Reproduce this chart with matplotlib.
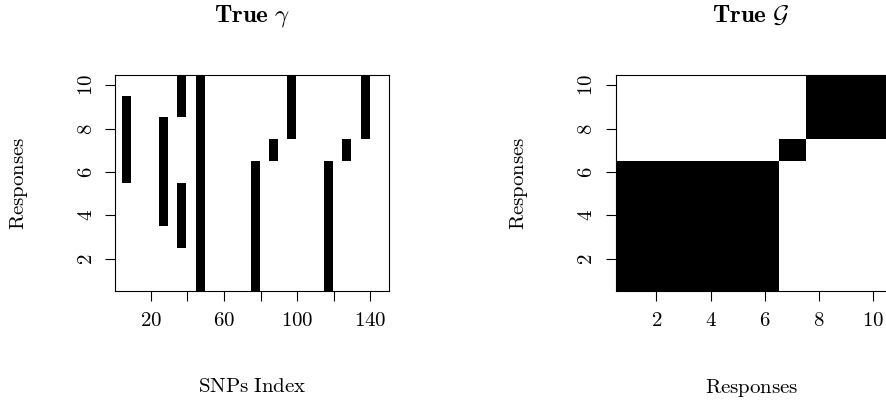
import numpy as np
import matplotlib
matplotlib.use("Agg")
import matplotlib.pyplot as plt
from matplotlib.colors import ListedColormap

plt.rcParams['mathtext.fontset'] = 'cm'
plt.rcParams['font.family'] = 'serif'
plt.rcParams['font.serif'] = ['DejaVu Serif']

n_snp, n_resp = 150, 10
# (first SNP, last SNP, first response, last response) of each black block
blocks = [(5, 9, 6, 9), (25, 29, 4, 8), (35, 39, 9, 10), (35, 39, 3, 5),
          (45, 49, 1, 10), (75, 79, 1, 6), (85, 89, 7, 7), (95, 99, 8, 10),
          (115, 119, 1, 6), (125, 129, 7, 7), (135, 139, 8, 10)]
groups = [(1, 6), (7, 7), (8, 10)]

gamma = np.zeros((n_resp, n_snp))
for s0, s1, r0, r1 in blocks:
    gamma[r0 - 1:r1, s0 - 1:s1] = 1
G = np.zeros((n_resp, n_resp))
for a, b in groups:
    G[a - 1:b, a - 1:b] = 1

cmap = ListedColormap(['white', 'black'])
fig = plt.figure(figsize=(8.87, 4.03), dpi=100)
ax1 = fig.add_axes([0.130, 0.277, 0.309, 0.538])
ax2 = fig.add_axes([0.694, 0.277, 0.306, 0.538])

ax1.imshow(gamma, cmap=cmap, origin='lower', aspect='auto', interpolation='nearest',
           extent=(0.5, n_snp + 0.5, 0.5, n_resp + 0.5))
ax2.imshow(G, cmap=cmap, origin='lower', aspect='auto', interpolation='nearest',
           extent=(0.5, n_resp + 0.5, 0.5, n_resp + 0.5))

def m(s):
    return r'$\mathrm{' + s.replace(' ', r'\ ') + '}$'

ax1.set_xticks(range(20, 141, 20))
ax1.set_xticklabels([m(str(v)) if v in (20, 60, 100, 140) else '' for v in range(20, 141, 20)])
ax2.set_xticks(range(2, 11, 2))
ax2.set_xticklabels([m(str(v)) for v in range(2, 11, 2)])
for ax in (ax1, ax2):
    ax.set_yticks(range(2, 11, 2))
    ax.set_yticklabels([m(str(v)) for v in range(2, 11, 2)], rotation=90, va='center')
    ax.tick_params(direction='out', length=7, labelsize=15, pad=7)
    ax.set_ylabel(m('Responses'), fontsize=15, labelpad=34)

ax1.set_xlabel(m('SNPs Index'), fontsize=15, labelpad=34)
ax2.set_xlabel(m('Responses'), fontsize=15, labelpad=34)
ax1.set_title(r'$\mathbf{True}\ \gamma$', fontsize=18, pad=38)
ax2.set_title(r'$\mathbf{True}\ \mathcal{G}$', fontsize=18, pad=38)

fig.savefig('out.png', dpi=100)
